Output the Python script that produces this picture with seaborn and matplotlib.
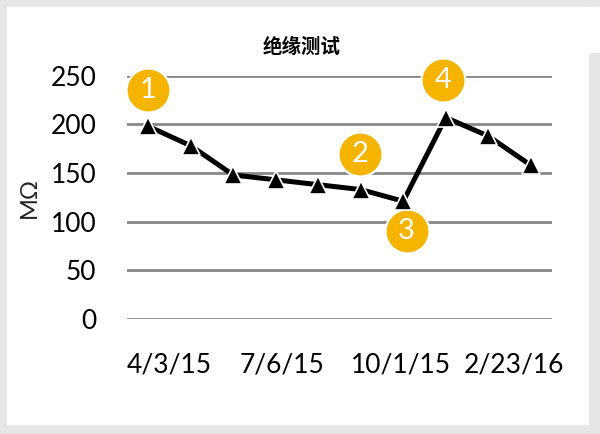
import matplotlib
matplotlib.use('Agg')
import matplotlib.pyplot as plt
import seaborn as sns
from matplotlib.patches import Rectangle

# insulation readings (MΩ), one per test
readings = [198, 178, 148, 143, 138, 133, 121, 207, 188, 158]
tests = list(range(len(readings)))

tick_labels = ['4/3/15', '7/6/15', '10/1/15', '2/23/16']
tick_pos = [0.5, 3.15, 5.95, 8.6]

# numbered callouts: (label, x, y)
callout_nums = ['1', '2', '3', '4']
callout_x = [0.0, 4.98, 6.08, 6.93]
callout_y = [235, 170, 90, 246]

yticks = [0, 50, 100, 150, 200, 250]

sns.set_theme(style='white')
plt.rcParams['font.family'] = ['Lato', 'DejaVu Sans']

fig = plt.figure(figsize=(6, 4.34), dpi=100)
fig.patch.set_facecolor('#e6e6e6')
# white card behind the chart
fig.patches.append(Rectangle((7 / 600, 1 - 424 / 434), 581 / 600, 417 / 434,
                             transform=fig.transFigure, color='white', zorder=-1))
fig.patches.append(Rectangle((588 / 600, 1 - 52 / 434), 12 / 600, 45 / 434,
                             transform=fig.transFigure, color='white', zorder=-1))

ax = fig.add_axes([127 / 600, 1 - 319 / 434, 425 / 600, 243.3 / 434])
ax.set_facecolor('none')

for v in yticks:
    ax.axhline(v, color='#888888', lw=2, zorder=1)

# callout circles sit under the line
ax.scatter(callout_x, callout_y, s=1000, color='#f4b400', edgecolor='white',
           linewidth=1.5, zorder=2, clip_on=False)
for n, cx, cy in zip(callout_nums, callout_x, callout_y):
    ax.text(cx, cy, n, color='white', fontsize=21, ha='center', va='center',
            zorder=3, clip_on=False)

sns.lineplot(x=tests, y=readings, ax=ax, color='black', linewidth=3.6,
             marker='^', markersize=13, markeredgecolor='white',
             markeredgewidth=1.2, zorder=4, clip_on=False)

ax.set_xlim(-0.5, 9.5)
ax.set_ylim(0, 250)
ax.set_yticks(yticks)
ax.set_xticks(tick_pos)
ax.set_xticklabels(tick_labels)
ax.tick_params(axis='both', length=0, labelsize=19, colors='black')
ax.tick_params(axis='y', pad=22)
ax.tick_params(axis='x', pad=24)
for s in ax.spines.values():
    s.set_visible(False)

ax.set_ylabel('MΩ', fontsize=17, labelpad=8, color='#222222')
fig.text(302 / 600, 1 - 47 / 434, '绝缘测试', fontsize=14, fontweight='bold',
         color='black', family=['Noto Sans CJK SC', 'DejaVu Sans'],
         ha='center', va='center')

fig.savefig('out.png', dpi=100)
